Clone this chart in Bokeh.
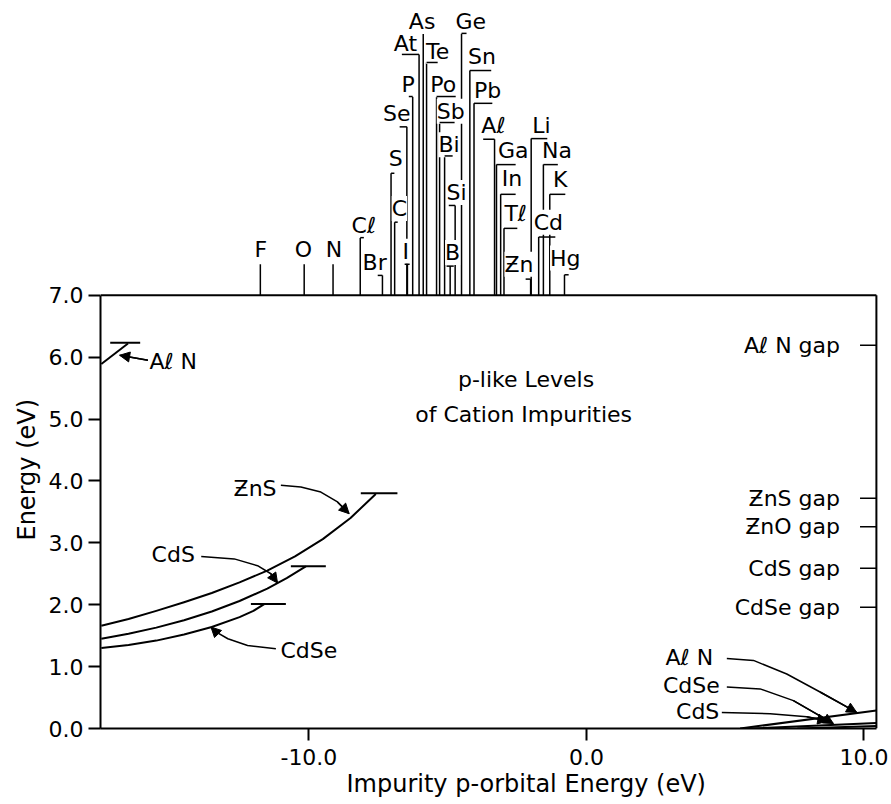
from bokeh.plotting import figure
from bokeh.models import (Range1d, FixedTicker, PrintfTickFormatter, LinearAxis, Title,
                          LabelSet, ColumnDataSource, Arrow, NormalHead)
from bokeh.core.properties import value
from bokeh.embed import file_html
from bokeh.resources import INLINE

FONT = "DejaVu Sans"
FS = "22px"

# ---------------- data ----------------
# impurity p-orbital energies (eV) marked above the frame
elements = ["F", "O", "N", "Cℓ", "Br", "S", "C", "I", "Se", "P", "At", "As", "Te", "Po", "Sb",
            "Bi", "Si", "B", "Ge", "Sn", "Pb", "Aℓ", "Ga", "In", "Tℓ", "Ƶn", "Li", "Na", "K",
            "Cd", "Hg"]
p_energy = [-11.75, -10.17, -9.13, -8.15, -7.35, -7.04, -6.91, -6.45, -6.47, -6.26, -6.03,
            -5.88, -5.76, -5.40, -5.29, -5.11, -4.73, -4.91, -4.50, -4.20, -4.05, -3.31,
            -3.24, -3.09, -2.97, -2.01, -1.99, -1.55, -1.32, -1.72, -0.79]
# marker layout (heights of the leader, bracket ends, label anchor) in axis units
marker_top = [7.50, 7.50, 7.50, 7.93, 7.32, 8.97, 8.18, 7.50, 9.72, 10.21, 10.89, 11.22,
              10.76, 10.21, 9.79, 9.25, 8.45, 7.47, 11.23, 10.63, 10.10, 9.52, 9.11, 8.63,
              8.08, 7.26, 9.53, 9.11, 8.63, 7.94, 7.33]
bracket_a = [-11.75, -10.17, -9.13, -8.15, -7.52, -7.04, -6.91, -6.55, -6.73, -6.40, -6.65,
             -5.88, -5.76, -5.40, -5.29, -5.11, -4.96, -5.04, -4.50, -4.20, -4.05, -3.72,
             -3.24, -3.09, -2.97, -2.19, -1.99, -1.55, -1.32, -1.72, -0.79]
bracket_b = [-11.75, -10.17, -9.13, -8.02, -7.35, -6.92, -6.80, -6.37, -6.47, -6.26, -6.03,
             -5.88, -5.36, -4.71, -4.75, -4.82, -4.73, -4.78, -4.32, -3.43, -3.39, -3.31,
             -2.55, -2.55, -2.49, -2.01, -1.41, -1.03, -0.76, -1.12, -0.64]
label_x = [-11.73, -10.20, -9.10, -8.02, -7.63, -6.87, -6.74, -6.51, -6.83, -6.42, -6.52,
           -5.92, -5.36, -5.16, -4.89, -4.95, -4.68, -4.82, -4.17, -3.76, -3.56, -3.35,
           -2.64, -2.68, -2.55, -2.43, -1.62, -1.06, -0.94, -1.37, -0.76]
label_y = [7.74, 7.74, 7.74, 8.13, 7.53, 9.21, 8.40, 7.71, 9.94, 10.41, 11.07, 11.43, 10.94,
           10.40, 9.97, 9.43, 8.66, 7.69, 11.43, 10.86, 10.31, 9.74, 9.34, 8.88, 8.32, 7.50,
           9.74, 9.33, 8.87, 8.18, 7.60]

# p-like levels vs impurity energy (left curves)
zns_x = [-17.48, -16.5, -15.5, -14.5, -13.5, -12.5, -11.5, -10.5, -9.5, -8.5, -7.59]
zns_y = [1.66, 1.77, 1.90, 2.04, 2.19, 2.36, 2.55, 2.78, 3.06, 3.40, 3.79]
cds_x = [-17.48, -16.5, -15.5, -14.5, -13.5, -12.5, -11.5, -10.8, -10.11]
cds_y = [1.45, 1.53, 1.63, 1.75, 1.89, 2.06, 2.26, 2.43, 2.62]
cdse_x = [-17.48, -16.5, -15.5, -14.5, -13.5, -12.5, -12.0, -11.61]
cdse_y = [1.30, 1.35, 1.42, 1.52, 1.64, 1.80, 1.90, 2.01]
aln_x = [-17.48, -16.52]
aln_y = [5.89, 6.22]
# horizontal caps (end levels)
cap_y = [3.80, 2.62, 2.01, 6.23]
cap_x0 = [-8.13, -10.65, -12.09, -17.16]
cap_x1 = [-6.81, -9.39, -10.83, -16.08]

# right-hand lines near zero
aln_r_x = [5.54, 10.45]
aln_r_y = [0.0, 0.29]
cdse_r_x = [5.95, 10.45]
cdse_r_y = [0.0, 0.09]
cds_r_x = [7.60, 10.45]
cds_r_y = [0.0, 0.04]

# band gaps (right)
gap_names = ["Aℓ N  gap", "ƵnS  gap", "ƵnO  gap", "CdS  gap", "CdSe  gap"]
gap_vals = [6.19, 3.72, 3.26, 2.59, 1.96]

y_ticks = [0, 1, 2, 3, 4, 5, 6, 7]
x_ticks = [-10, 0, 10]

XMIN, XBOX, XMAX = -17.51, 10.45, 10.706
YTOP = 11.632

# ---------------- figure ----------------
p = figure(frame_width=783, frame_height=720, x_range=Range1d(XMIN, XMAX),
           y_range=Range1d(0, YTOP),
           output_backend="svg", toolbar_location=None, title=None,
           x_axis_type=None, y_axis_type=None,
           min_border_left=100, min_border_right=5, min_border_top=8, min_border_bottom=60)
p.outline_line_color = None
p.background_fill_color = "white"

def style_axis(ax):
    ax.axis_line_width = 2
    ax.axis_line_color = "black"
    ax.major_tick_line_width = 2
    ax.major_tick_line_color = "black"
    ax.major_tick_out = 12
    ax.major_tick_in = 0
    ax.minor_tick_out = 0
    ax.minor_tick_in = 0
    ax.major_label_text_font = FONT
    ax.major_label_text_font_size = FS
    ax.major_label_text_color = "black"

xaxis = LinearAxis(ticker=FixedTicker(ticks=x_ticks), formatter=PrintfTickFormatter(format="%.1f"),
                   bounds=(XMIN, XBOX))
style_axis(xaxis)
xaxis.major_label_standoff = 8
p.add_layout(xaxis, "below")
yaxis = LinearAxis(ticker=FixedTicker(ticks=y_ticks), formatter=PrintfTickFormatter(format="%.1f"),
                   bounds=(0, 7))
style_axis(yaxis)
yaxis.major_label_standoff = 5
p.add_layout(yaxis, "left")

# axis titles
p.add_layout(Title(text="Energy  (eV)", align="left", offset=188, text_font=FONT,
                   text_font_size="24px", text_font_style="normal", text_color="black"), "left")
p.add_layout(Title(text="Impurity  p-orbital  Energy (eV)", align="left", offset=246,
                   text_font=FONT, text_font_size="24px", text_font_style="normal",
                   text_color="black", standoff=0), "below")

# frame top and right
p.segment(x0=[XMIN, XBOX], y0=[7, 0], x1=[XBOX, XBOX], y1=[7, 7], line_color="black", line_width=2)

# element markers
msrc = ColumnDataSource(dict(name=elements, e=p_energy, top=marker_top, a=bracket_a, b=bracket_b,
                             lx=label_x, ly=label_y, base=[7.0] * len(elements)))
p.segment(x0="e", y0="base", x1="e", y1="top", source=msrc, line_color="black", line_width=1.5)
labels = LabelSet(x="lx", y="ly", text="name", source=msrc, text_align="center",
                  text_baseline="middle", text_font=value(FONT), text_font_size=value(FS),
                  text_color="black", background_fill_color="white")
p.add_layout(labels)
p.segment(x0="a", y0="top", x1="b", y1="top", source=msrc, line_color="black", line_width=1.5,
          level="overlay")

# curves
for xs, ys in [(zns_x, zns_y), (cds_x, cds_y), (cdse_x, cdse_y), (aln_x, aln_y),
               (aln_r_x, aln_r_y), (cdse_r_x, cdse_r_y), (cds_r_x, cds_r_y)]:
    p.line(xs, ys, line_color="black", line_width=2, line_join="round")
p.segment(x0=cap_x0, y0=cap_y, x1=cap_x1, y1=cap_y, line_color="black", line_width=2)

# gap ticks and labels
p.segment(x0=[9.86] * len(gap_vals), y0=gap_vals, x1=[XBOX] * len(gap_vals), y1=gap_vals,
          line_color="black", line_width=1.5)
p.text(x=[9.39] * len(gap_vals), y=gap_vals, text=gap_names, text_align="right",
       text_baseline="middle", text_font=value(FONT), text_font_size=value(FS), text_color="black")

# leaders with arrows
leaders = [
    ("ƵnS", -11.94, 3.87, [-11.01, -10.29, -9.57, -8.97, -8.55], [3.93, 3.90, 3.82, 3.66, 3.47]),
    ("CdS", -14.89, 2.81, [-13.88, -12.69, -11.85, -11.37, -11.13], [2.78, 2.74, 2.63, 2.50, 2.35]),
    ("CdSe", -10.0, 1.26, [-11.19, -12.21, -12.92, -13.35, -13.53], [1.29, 1.34, 1.45, 1.56, 1.64]),
    ("Aℓ N", -14.89, 5.93, [-15.80, -16.82], [5.95, 6.03]),
    ("Aℓ N", 3.71, 1.15, [5.06, 6.02, 7.22, 8.42, 9.74], [1.13, 1.10, 0.88, 0.59, 0.26]),
    ("CdSe", 3.78, 0.69, [5.06, 6.26, 7.46, 8.90], [0.67, 0.64, 0.45, 0.08]),
    ("CdS", 4.01, 0.28, [4.88, 6.62, 7.94, 8.70], [0.26, 0.24, 0.19, 0.12]),
]
for txt, tx, ty, lxs, lys in leaders:
    p.line(lxs, lys, line_color="black", line_width=1.5, line_join="round")
    p.add_layout(Arrow(end=NormalHead(size=10, fill_color="black", line_color="black"),
                       x_start=lxs[-2], y_start=lys[-2], x_end=lxs[-1], y_end=lys[-1],
                       line_width=1.5, line_color="black"))
    p.text(x=[tx], y=[ty], text=[txt], text_align="center", text_baseline="middle",
           text_font=value(FONT), text_font_size=value(FS), text_color="black")

# central title text
p.text(x=[-2.05, -2.01], y=[5.64, 5.07], text=["p-like  Levels", "of  Cation  Impurities"],
       text_align="center", text_baseline="middle", text_font=value(FONT),
       text_font_size=value(FS), text_color="black")

open("out.html", "w").write(file_html(p, INLINE))
